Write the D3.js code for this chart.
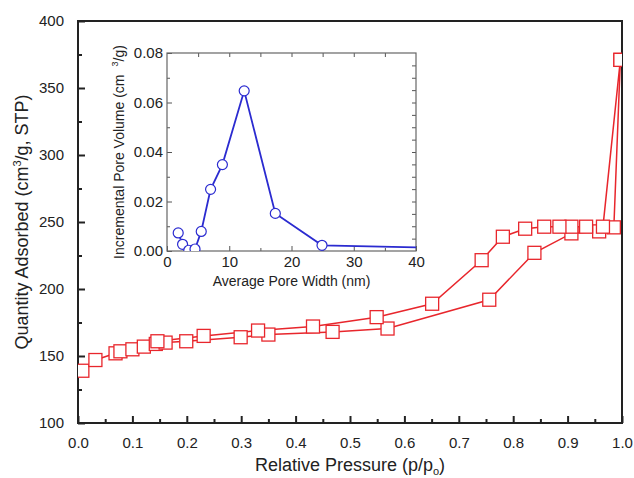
<!DOCTYPE html>
<html>
<head>
<meta charset="utf-8">
<script src="https://cdn.jsdelivr.net/npm/d3@7"></script>
<style>
  body { margin: 0; background: #fff; }
  svg text { font-family: "Liberation Sans", Arial, sans-serif; fill: #222; }
</style>
</head>
<body>
<div id="chart"></div>
<script>
// isotherm - adsorption branch
var adsP = [0.008, 0.032, 0.069, 0.078, 0.100, 0.121, 0.143, 0.161, 0.199, 0.299, 0.350, 0.468, 0.569, 0.756, 0.839, 0.907, 0.958, 0.985, 0.997];
var adsV = [139, 147, 152, 153.5, 155, 157, 159, 160, 161, 164, 166, 168, 170.5, 192, 227, 241.5, 243, 246, 371];
// desorption branch
var desP = [0.997, 0.965, 0.934, 0.907, 0.885, 0.857, 0.822, 0.781, 0.742, 0.651, 0.549, 0.432, 0.331, 0.231, 0.146];
var desV = [371, 246.5, 246.5, 246.5, 246.5, 246.5, 245, 239, 221.5, 189, 179, 172, 169, 165, 161];

// pore size distribution (inset)
var poreW = [1.8, 2.5, 3.5, 4.5, 5.5, 7.0, 8.9, 12.4, 17.4, 24.9, 45];
var poreV = [0.0073, 0.0027, 0.0003, 0.0008, 0.0079, 0.0249, 0.0349, 0.0647, 0.0152, 0.0023, 0.0012];

var xTicks = [0, 0.1, 0.2, 0.3, 0.4, 0.5, 0.6, 0.7, 0.8, 0.9, 1.0];
var yTicks = [100, 150, 200, 250, 300, 350, 400];
var insXTicks = [0, 10, 20, 30, 40];
var insYTicks = [0, 0.02, 0.04, 0.06, 0.08];

var W = 634, H = 478;
var svg = d3.select("#chart").append("svg").attr("width", W).attr("height", H);

var m = {left: 78, right: 622, top: 21, bottom: 423};
var x = d3.scaleLinear().domain([0, 1]).range([m.left, m.right]);
var y = d3.scaleLinear().domain([100, 400]).range([m.bottom, m.top]);

svg.append("clipPath").attr("id", "mainClip").append("rect")
  .attr("x", m.left).attr("y", m.top).attr("width", m.right - m.left).attr("height", m.bottom - m.top);

// main axes (ticks inward)
var xAxis = svg.append("g").attr("transform", "translate(0," + m.bottom + ")")
  .call(d3.axisBottom(x).tickValues(xTicks).tickFormat(d3.format(".1f")).tickSize(-7).tickPadding(14));
var xMinor = svg.append("g").attr("transform", "translate(0," + m.bottom + ")")
  .call(d3.axisBottom(x).tickValues(d3.range(0.05, 1, 0.1)).tickFormat("").tickSize(-4));
var yAxis = svg.append("g").attr("transform", "translate(" + m.left + ",0)")
  .call(d3.axisLeft(y).tickValues(yTicks).tickSize(-7).tickPadding(14));
var yMinor = svg.append("g").attr("transform", "translate(" + m.left + ",0)")
  .call(d3.axisLeft(y).tickValues(d3.range(125, 400, 50)).tickFormat("").tickSize(-4));
[xAxis, xMinor, yAxis, yMinor].forEach(function(g) {
  g.select(".domain").remove();
  g.selectAll("line").attr("stroke", "#222").attr("stroke-width", 2);
  g.selectAll("text").style("font-size", "15px").attr("fill", "#222");
});

svg.append("rect").attr("x", m.left).attr("y", m.top)
  .attr("width", m.right - m.left).attr("height", m.bottom - m.top)
  .attr("fill", "none").attr("stroke", "#222").attr("stroke-width", 2);

// isotherm
var red = "#e8262c";
var line = d3.line().x(function(d) { return x(d[0]); }).y(function(d) { return y(d[1]); });
var ads = adsP.map(function(p, i) { return [p, adsV[i]]; });
var des = desP.map(function(p, i) { return [p, desV[i]]; });
var iso = svg.append("g").attr("clip-path", "url(#mainClip)");
[ads, des].forEach(function(s) {
  iso.append("path").datum(s).attr("d", line).attr("fill", "none").attr("stroke", red).attr("stroke-width", 1.5);
});
[ads, des].forEach(function(s) {
  iso.selectAll(null).data(s).enter().append("rect")
    .attr("x", function(d) { return x(d[0]) - 6.5; })
    .attr("y", function(d) { return y(d[1]) - 6.5; })
    .attr("width", 13).attr("height", 13)
    .attr("fill", "#fff").attr("stroke", red).attr("stroke-width", 1.3);
});

// axis titles
svg.append("text").attr("x", (m.left + m.right) / 2).attr("y", 471)
  .attr("text-anchor", "middle").style("font-size", "18px")
  .html('Relative Pressure (p/p<tspan dy="4" style="font-size:11px">o</tspan><tspan dy="-4">)</tspan>');
svg.append("text").attr("transform", "translate(28," + ((m.top + m.bottom) / 2) + ") rotate(-90)")
  .attr("text-anchor", "middle").style("font-size", "18px")
  .html('Quantity Adsorbed (cm<tspan dy="-7" style="font-size:11px">3</tspan><tspan dy="7">/g, STP)</tspan>');

// inset
var ins = {left: 167, right: 416, top: 53, bottom: 251};
var ix = d3.scaleLinear().domain([0, 40]).range([ins.left, ins.right]);
var iy = d3.scaleLinear().domain([0, 0.08]).range([ins.bottom, ins.top]);

svg.append("clipPath").attr("id", "insClip").append("rect")
  .attr("x", ins.left).attr("y", ins.top).attr("width", ins.right - ins.left).attr("height", ins.bottom - ins.top);

var ixAxis = svg.append("g").attr("transform", "translate(0," + ins.bottom + ")")
  .call(d3.axisBottom(ix).tickValues(insXTicks).tickSize(-5).tickPadding(5));
var ixMinor = svg.append("g").attr("transform", "translate(0," + ins.bottom + ")")
  .call(d3.axisBottom(ix).tickValues([5, 15, 25, 35]).tickFormat("").tickSize(-3));
var iyAxis = svg.append("g").attr("transform", "translate(" + ins.left + ",0)")
  .call(d3.axisLeft(iy).tickValues(insYTicks).tickFormat(d3.format(".2f")).tickSize(-5).tickPadding(4));
var iyMinor = svg.append("g").attr("transform", "translate(" + ins.left + ",0)")
  .call(d3.axisLeft(iy).tickValues([0.01, 0.03, 0.05, 0.07]).tickFormat("").tickSize(-3));
var ixTop = svg.append("g").attr("transform", "translate(0," + ins.top + ")")
  .call(d3.axisTop(ix).tickValues(d3.range(5, 40, 5)).tickFormat("").tickSize(-4));
var iyRight = svg.append("g").attr("transform", "translate(" + ins.right + ",0)")
  .call(d3.axisRight(iy).tickValues(d3.range(0.005, 0.08, 0.005)).tickFormat("").tickSize(-4));
[ixAxis, ixMinor, iyAxis, iyMinor, ixTop, iyRight].forEach(function(g) {
  g.select(".domain").remove();
  g.selectAll("line").attr("stroke", "#555").attr("stroke-width", 1);
  g.selectAll("text").style("font-size", "15px").attr("fill", "#222");
});
svg.append("rect").attr("x", ins.left).attr("y", ins.top)
  .attr("width", ins.right - ins.left).attr("height", ins.bottom - ins.top)
  .attr("fill", "none").attr("stroke", "#666").attr("stroke-width", 1.2);

var blue = "#2b2bd0";
var pore = poreW.map(function(w, i) { return [w, poreV[i]]; });
var ig = svg.append("g").attr("clip-path", "url(#insClip)");
ig.append("path").datum(pore)
  .attr("d", d3.line().x(function(d) { return ix(d[0]); }).y(function(d) { return iy(d[1]); }))
  .attr("fill", "none").attr("stroke", blue).attr("stroke-width", 1.8);
ig.selectAll("circle").data(pore).enter().append("circle")
  .attr("cx", function(d) { return ix(d[0]); })
  .attr("cy", function(d) { return iy(d[1]); })
  .attr("r", 5).attr("fill", "#fff").attr("stroke", blue).attr("stroke-width", 1.2);

svg.append("text").attr("x", (ins.left + ins.right) / 2).attr("y", 286)
  .attr("text-anchor", "middle").style("font-size", "14px")
  .text("Average Pore Width (nm)");
svg.append("text").attr("transform", "translate(124," + ((ins.top + ins.bottom) / 2) + ") rotate(-90)")
  .attr("text-anchor", "middle").style("font-size", "14px")
  .html('Incremental Pore Volume (cm<tspan dx="8" dy="-6" style="font-size:9px">3</tspan><tspan dy="6">/g)</tspan>');
</script>
</body>
</html>
